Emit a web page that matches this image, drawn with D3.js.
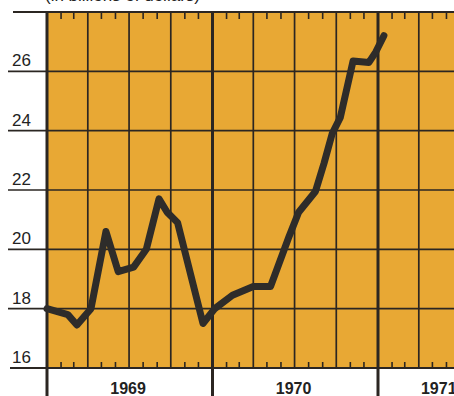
<!DOCTYPE html>
<html>
<head>
<meta charset="utf-8">
<script src="https://cdn.jsdelivr.net/npm/d3@7"></script>
<style>
  html, body { margin: 0; padding: 0; background: #fff; }
  svg { display: block; }
  text { font-family: "Liberation Sans", Arial, sans-serif; fill: #222; }
</style>
</head>
<body>
<div id="chart"></div>
<script>
(function() {

  // ---- data ----
  const dates = [
    "1969-01-01", "1969-02-16", "1969-03-08", "1969-04-08", "1969-05-11",
    "1969-06-07", "1969-07-11", "1969-08-08", "1969-09-05", "1969-09-23",
    "1969-10-16", "1969-12-11", "1970-01-06", "1970-02-14", "1970-04-01",
    "1970-05-09", "1970-06-18", "1970-07-10", "1970-08-16", "1970-09-04",
    "1970-09-22", "1970-10-10", "1970-11-07", "1970-12-12", "1970-12-27",
    "1971-01-14"
  ];
  const values = [
    18.0, 17.8, 17.45, 18.0, 20.6,
    19.25, 19.4, 20.0, 21.7, 21.25,
    20.9, 17.5, 18.0, 18.45, 18.75,
    18.75, 20.4, 21.25, 21.95, 22.9,
    23.9, 24.45, 26.35, 26.3, 26.65,
    27.2
  ];
  const yTicks = [16, 18, 20, 22, 24, 26];
  const years = ["1969", "1970", "1971"];
  const subtitle = "(in billions of dollars)";

  const parse = d3.timeParse("%Y-%m-%d");
  const series = dates.map((d, i) => ({date: parse(d), value: values[i]}));

  // ---- setup ----
  const width = 454, height = 396;
  const left = 47, top = 13, bottom = 368;
  const orange = "#e8a834";
  const ink = "#2b2622";

  const svg = d3.select("#chart").append("svg")
      .attr("width", width)
      .attr("height", height);

  const x = d3.scaleTime()
      .domain([new Date(1969, 0, 1), new Date(1971, 0, 1)])
      .range([left, 378]);
  const y = d3.scaleLinear()
      .domain([16, 28])
      .range([bottom, 12]);

  const xEnd = new Date(1971, 7, 1);

  // background
  svg.append("rect")
      .attr("x", left).attr("y", top)
      .attr("width", width - left).attr("height", bottom - top)
      .attr("fill", orange);

  // subtitle, mostly cut off at top
  svg.append("text")
      .attr("x", 45).attr("y", 1)
      .style("font-size", "17px")
      .text(subtitle);

  // horizontal grid + left extensions
  svg.selectAll(".hgrid")
      .data(yTicks.concat([28]))
      .enter().append("line")
      .attr("x1", d => d === 28 ? 13 : (d === 16 ? 10 : 8))
      .attr("x2", width)
      .attr("y1", d => y(d)).attr("y2", d => y(d))
      .attr("stroke", ink)
      .attr("stroke-width", d => d === 16 || d === 28 ? 2 : 1.7);

  // y labels
  svg.selectAll(".ylab")
      .data(yTicks)
      .enter().append("text")
      .attr("x", 12)
      .attr("y", d => y(d) - 5)
      .style("font-size", "17px")
      .text(d => d);

  // quarter grid lines
  const quarters = d3.timeMonth.every(3).range(new Date(1969, 0, 1), xEnd);
  svg.selectAll(".vgrid")
      .data(quarters.filter(d => d.getMonth() !== 0))
      .enter().append("line")
      .attr("x1", d => x(d)).attr("x2", d => x(d))
      .attr("y1", top).attr("y2", bottom)
      .attr("stroke", ink)
      .attr("stroke-width", 1.7);

  // month ticks, top and bottom
  const months = d3.timeMonth.range(new Date(1969, 0, 1), xEnd)
      .filter(d => d.getMonth() % 3 !== 0);
  svg.selectAll(".mtick-b")
      .data(months)
      .enter().append("line")
      .attr("x1", d => x(d)).attr("x2", d => x(d))
      .attr("y1", bottom - 6).attr("y2", bottom)
      .attr("stroke", ink).attr("stroke-width", 1.6);
  svg.selectAll(".mtick-t")
      .data(months)
      .enter().append("line")
      .attr("x1", d => x(d)).attr("x2", d => x(d))
      .attr("y1", top).attr("y2", top + 6)
      .attr("stroke", ink).attr("stroke-width", 1.6);

  // year lines, thick, running below the plot
  const yearStarts = years.map(d => new Date(+d, 0, 1));
  svg.selectAll(".yline")
      .data(yearStarts)
      .enter().append("line")
      .attr("x1", d => x(d)).attr("x2", d => x(d))
      .attr("y1", 12).attr("y2", height)
      .attr("stroke", ink)
      .attr("stroke-width", 3);

  // year labels
  svg.selectAll(".ylabel")
      .data(years)
      .enter().append("text")
      .attr("x", (d, i) => i < 2 ? x(new Date(+d, 6, 1)) - 1 : x(new Date(+d, 4, 15)))
      .attr("y", 394)
      .attr("text-anchor", "middle")
      .style("font-size", "16px")
      .style("font-weight", "bold")
      .text(d => d);

  // data line
  const line = d3.line()
      .x(d => x(d.date))
      .y(d => y(d.value));

  svg.append("path")
      .datum(series)
      .attr("d", line)
      .attr("fill", "none")
      .attr("stroke", "#2e2c2a")
      .attr("stroke-width", 7)
      .attr("stroke-linejoin", "round")
      .attr("stroke-linecap", "round");

})();
</script>
</body>
</html>
